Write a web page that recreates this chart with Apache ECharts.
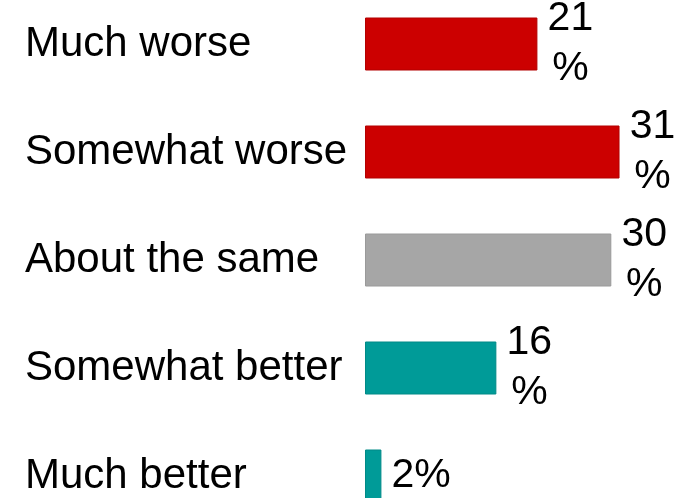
<!DOCTYPE html>
<html>
<head>
<meta charset="utf-8">
<script src="https://cdn.jsdelivr.net/npm/echarts@6/dist/echarts.min.js"></script>
<style>
  html, body { margin: 0; padding: 0; background: #fff; }
  #chart { width: 677px; height: 498px; }
</style>
</head>
<body>
<div id="chart"></div>
<script>
// survey answers, top to bottom
const categories = ['Much worse', 'Somewhat worse', 'About the same', 'Somewhat better', 'Much better']
const values = [21, 31, 30, 16, 2]

// bar fill per answer
const barColors = ['#cc0000', '#cc0000', '#a6a6a6', '#009b98', '#009b98']
const barBorders = ['#b30000', '#b30000', '#9a9a9a', '#008a87', '#008a87']

const font = 'Liberation Sans, Arial, sans-serif'

const chart = echarts.init(document.getElementById('chart'))

chart.setOption({
  animation: false,
  grid: {
    left: 365,
    right: 0,
    top: -10,
    height: 540,
    containLabel: false,
    outerBoundsMode: 'none'
  },
  xAxis: {
    type: 'value',
    min: 0,
    max: 38,
    show: false
  },
  yAxis: {
    type: 'category',
    data: categories,
    inverse: true,
    axisLine: { show: false },
    axisTick: { show: false },
    axisLabel: {
      align: 'left',
      margin: 340,
      color: '#000',
      fontSize: 42,
      fontFamily: font
    }
  },
  series: [
    {
      type: 'bar',
      barWidth: 53,
      data: values.map((v, i) => ({
        value: v,
        itemStyle: { color: barColors[i], borderColor: barBorders[i], borderWidth: 1 }
      })),
      label: {
        show: true,
        position: 'right',
        distance: 10,
        color: '#000',
        fontSize: 41,
        fontFamily: font,
        // two-digit values wrap the % sign onto its own line
        formatter: (p) => p.value >= 10 ? '{a|' + p.value + '}\n{a|%}' : '{b|' + p.value + '%}',
        rich: {
          a: {
            width: 46,
            align: 'center',
            fontSize: 41,
            lineHeight: 50,
            fontFamily: font,
            color: '#000'
          },
          b: {
            fontSize: 41,
            fontFamily: font,
            color: '#000'
          }
        }
      }
    }
  ]
})
</script>
</body>
</html>
